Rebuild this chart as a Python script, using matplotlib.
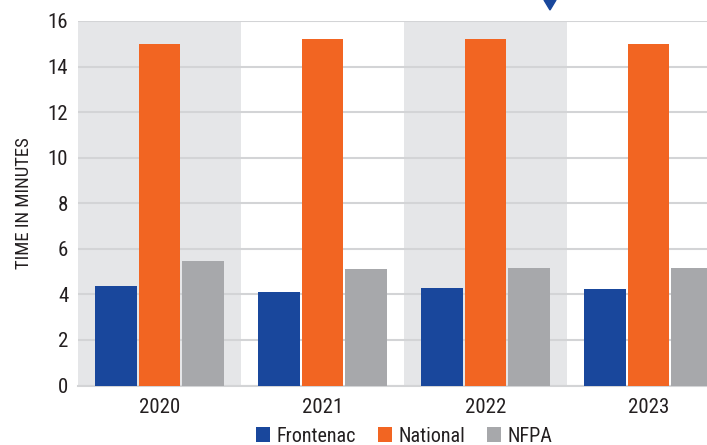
import numpy as np
import matplotlib
matplotlib.use('Agg')
import matplotlib.pyplot as plt
from matplotlib.patches import Polygon
from matplotlib import font_manager

names = sorted({f.name for f in font_manager.fontManager.ttflist})
cond = [n for n in ["Liberation Sans Narrow", "Roboto Condensed", "DejaVu Sans Condensed"] if n in names]
matplotlib.rcParams["font.family"] = cond + ["Liberation Sans", "DejaVu Sans"]

# data
years = ['2020', '2021', '2022', '2023']
frontenac = [4.35, 4.12, 4.3, 4.25]
national = [15.0, 15.2, 15.2, 15.0]
nfpa = [5.48, 5.13, 5.17, 5.17]
series = [('Frontenac', frontenac, '#19479c'),
          ('National', national, '#f26522'),
          ('NFPA', nfpa, '#a7a8ab')]

txt = '#231f20'

fig = plt.figure(figsize=(7.07, 4.45), dpi=100)
ax = fig.add_axes([78 / 707, 59.5 / 445, 652 / 707, 364.5 / 445])

x = np.arange(len(years))
# shaded bands behind every other year
for i in x[::2]:
    ax.axvspan(i - 0.5, i + 0.5, color='#e5e6e8', zorder=0, lw=0)

width = 0.252
step = 0.267
for k, (name, vals, col) in enumerate(series):
    ax.bar(x + (k - 1) * step, vals, width=width, color=col, label=name, zorder=3)

ax.set_xlim(-0.5, 3.5)
ax.set_ylim(0, 16)
ax.set_yticks(range(0, 17, 2))
ax.set_xticks(x)
ax.set_xticklabels(years)
ax.yaxis.grid(True, color='#d3d4d6', lw=1.5, zorder=1)
ax.set_axisbelow(True)
for s in ['top', 'right', 'left']:
    ax.spines[s].set_visible(False)
ax.spines['bottom'].set_color('#d3d4d6')
ax.spines['bottom'].set_linewidth(1.5)
ax.tick_params(axis='both', length=0, labelsize=15, colors=txt)
ax.tick_params(axis='y', pad=7)
ax.tick_params(axis='x', pad=9)
ax.set_ylabel('TIME IN MINUTES', fontsize=13.5, color=txt)
ax.yaxis.set_label_coords(-45 / 652, 0.5)

fig.legend(loc='center', bbox_to_anchor=((78 + 326) / 707, 9 / 445), ncol=3,
           frameon=False, fontsize=14.5, handlelength=0.7, handleheight=0.7,
           handletextpad=0.3, columnspacing=1.1, labelcolor=txt,
           borderpad=0, borderaxespad=0)

# little marker at top edge
W, H = 707, 445
tri = Polygon([(544 / W, 1.0), (556 / W, 1.0), (550 / W, 1 - 10 / H)],
              closed=True, transform=fig.transFigure, color='#19479c')
fig.add_artist(tri)

fig.savefig('out.png', dpi=100)
